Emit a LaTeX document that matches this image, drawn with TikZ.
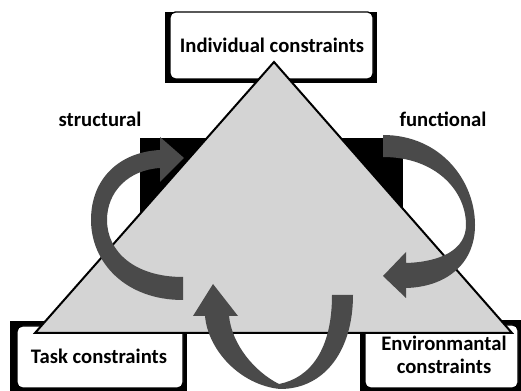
\documentclass[tikz,border=0pt]{standalone}
\usepackage{fontspec}
\setmainfont{Carlito}
\tikzset{every picture/.style={line width=0.75pt}}
\tikzset{
  shadowrect/.style={fill=black, draw=none},
  whitebox/.style={fill=white, draw=black, line width=1pt, rounded corners=4pt},
  ribbon/.style={fill={rgb, 255:red, 74; green, 74; blue, 74 }, draw=none},
  lbl/.style={font=\bfseries\fontsize{15.5}{17}\selectfont, inner sep=0.75pt, align=center}
}

\begin{document}
\begin{tikzpicture}[x=0.75pt,y=0.75pt,yscale=-1,xscale=1]
\useasboundingbox (0,0) rectangle (521,391);

%Shape: Rectangle (black back plate)
\draw [shadowrect] (140,138) -- (403,138) -- (403,250) -- (140,250) -- cycle ;
%Shape: Rectangle (top box)
\draw [shadowrect] (165,12) -- (377,12) -- (377,83) -- (165,83) -- cycle ;
\draw [whitebox] (170,12) -- (373,12) -- (373,79) -- (170,79) -- cycle ;
%Shape: Rectangle (task box)
\draw [shadowrect] (10,321) -- (187,321) -- (187,391) -- (10,391) -- cycle ;
\draw [whitebox] (17,326) -- (183,326) -- (183,388) -- (17,388) -- cycle ;
%Shape: Rectangle (environment box)
\draw [shadowrect] (360,320) -- (521,320) -- (521,391) -- (360,391) -- cycle ;
\draw [whitebox] (365,325) -- (518,325) -- (518,388) -- (365,388) -- cycle ;

%Shape: Triangle
\draw [line width=1.5, fill={rgb, 255:red, 212; green, 212; blue, 212 }, line join=miter] (274,62) -- (512,333) -- (35,333) -- cycle ;

%Shape: Curved Arrow (structural)
\draw [ribbon] (183,300) .. controls (125,300) and (91,262) .. (91,220) .. controls (91,178) and (120,152) .. (160,150) -- (160,137) -- (184,158) -- (160,182) -- (160,168) .. controls (128,170) and (107,192) .. (107,220) .. controls (107,252) and (135,277) .. (183,277) -- cycle ;
%Shape: Curved Arrow (functional)
\draw [ribbon] (383,135) .. controls (440,135) and (475,180) .. (475,225) .. controls (475,265) and (445,287) .. (406,288) -- (406,298) -- (383,276) -- (406,252) -- (406,263) .. controls (440,262) and (466,250) .. (466,225) .. controls (466,190) and (435,157) .. (383,157) -- cycle ;
%Shape: Curved Arrow (bottom)
\draw [ribbon] (332,295) .. controls (332,350) and (310,378) .. (279,384) .. controls (255,372) and (232,345) .. (229,316) -- (238,316) -- (213,284) -- (193,316) -- (205,316) .. controls (208,350) and (240,385) .. (280,389) .. controls (325,389) and (353,350) .. (353,295) -- cycle ;

% Text Node
\draw (272,45) node (indiv) [lbl] {Individual constraints};
% Text Node
\draw (100,119) node (struct) [lbl] {structural};
% Text Node
\draw (443,119) node (funct) [lbl] {functional};
% Text Node
\draw (99,356) node (task) [lbl] {Task constraints};
% Text Node
\draw (444,355) node (envir) [lbl] {Environmantal\\constraints};

\end{tikzpicture}
\end{document}
